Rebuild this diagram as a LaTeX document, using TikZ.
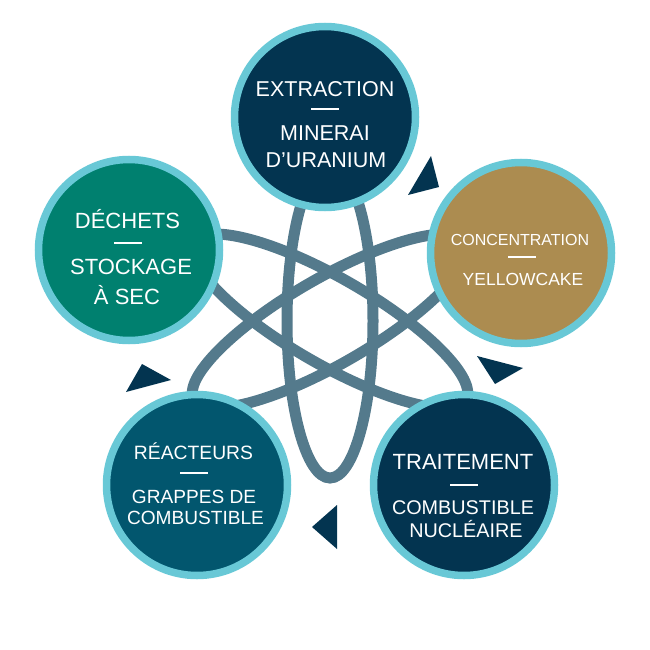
\documentclass[tikz,border=0pt]{standalone}
\usepackage{fontspec}
\setmainfont{Liberation Sans}
\definecolor{ringcyan}{RGB}{104,200,214}
\definecolor{stagenavy}{RGB}{3,52,80}
\definecolor{stagegold}{RGB}{172,140,80}
\definecolor{stageteal}{RGB}{0,128,111}
\definecolor{stagepetrol}{RGB}{2,86,110}
\definecolor{atomgrey}{RGB}{84,122,140}

\begin{document}
\begin{tikzpicture}[x=1pt, y=-1pt,
      stage/.style={circle, draw=ringcyan, line width=7.5pt,
                    minimum size=181pt, inner sep=0pt},
      orbit/.style={draw=atomgrey, line width=11pt},
      ttl/.style={text=white, inner sep=0pt, anchor=base},
      dashbar/.style={fill=white, minimum width=28pt, minimum height=2pt,
                      inner sep=0pt},
      arrowtri/.style={fill=stagenavy},
    ]
    \useasboundingbox (0,0) rectangle (650,650);
    %% atom orbits
    \draw[orbit] (330,321) ellipse [x radius=43, y radius=157];
    \draw[orbit, rotate around={60:(330,321)}] (330,321) ellipse [x radius=43, y radius=157];
    \draw[orbit, rotate around={-60:(330,321)}] (330,321) ellipse [x radius=43, y radius=157];
    %% stage circles
    \node[stage, fill=stagenavy]   (extr)  at (325,117) {};
    \node[stage, fill=stagegold]   (conc)  at (521,253) {};
    \node[stage, fill=stagenavy]   (trait) at (464,485) {};
    \node[stage, fill=stagepetrol] (reac)  at (197,485) {};
    \node[stage, fill=stageteal]   (dech)  at (129,250) {};
    %% arrow triangles
    \fill[arrowtri] (431,156) -- (439,187) -- (408,195) -- cycle;
    \fill[arrowtri] (477,356) -- (523,368) -- (495,384) -- cycle;
    \fill[arrowtri] (337,505) -- (337,549) -- (312,527) -- cycle;
    \fill[arrowtri] (142,364) -- (171,380) -- (126,392) -- cycle;
    %% extraction
    \node[ttl, font=\fontsize{21.5}{26}\selectfont] (extr-t) at (325,97) {EXTRACTION};
    \node[dashbar] (extr-d) at (325,109) {};
    \node[ttl, font=\fontsize{21.5}{26}\selectfont] (extr-s1) at (325,140) {MINERAI};
    \node[ttl, font=\fontsize{21.5}{26}\selectfont] (extr-s2) at (326,167) {D’URANIUM};
    %% concentration
    \node[ttl, font=\fontsize{16}{20}\selectfont] (conc-t) at (520,245) {CONCENTRATION};
    \node[dashbar] (conc-d) at (522,257) {};
    \node[ttl, font=\fontsize{17.5}{21}\selectfont] (conc-s1) at (523,285) {YELLOWCAKE};
    %% traitement
    \node[ttl, font=\fontsize{22}{26}\selectfont] (trait-t) at (463,469) {TRAITEMENT};
    \node[dashbar] (trait-d) at (464,485) {};
    \node[ttl, font=\fontsize{19.8}{24}\selectfont] (trait-s1) at (463,514) {COMBUSTIBLE};
    \node[ttl, font=\fontsize{19.8}{24}\selectfont] (trait-s2) at (466,537) {NUCLÉAIRE};
    %% reacteurs
    \node[ttl, font=\fontsize{19.3}{23}\selectfont] (reac-t) at (193.5,459) {RÉACTEURS};
    \node[dashbar] (reac-d) at (193.5,473) {};
    \node[ttl, font=\fontsize{19.1}{23}\selectfont] (reac-s1) at (194,503) {GRAPPES DE};
    \node[ttl, font=\fontsize{19.1}{23}\selectfont] (reac-s2) at (195.5,524) {COMBUSTIBLE};
    %% dechets
    \node[ttl, font=\fontsize{22}{26}\selectfont] (dech-t) at (127.5,228) {DÉCHETS};
    \node[dashbar] (dech-d) at (128,243) {};
    \node[ttl, font=\fontsize{22}{26}\selectfont] (dech-s1) at (131,274) {STOCKAGE};
    \node[ttl, font=\fontsize{22}{26}\selectfont] (dech-s2) at (127,304) {À SEC};
\end{tikzpicture}
\end{document}
